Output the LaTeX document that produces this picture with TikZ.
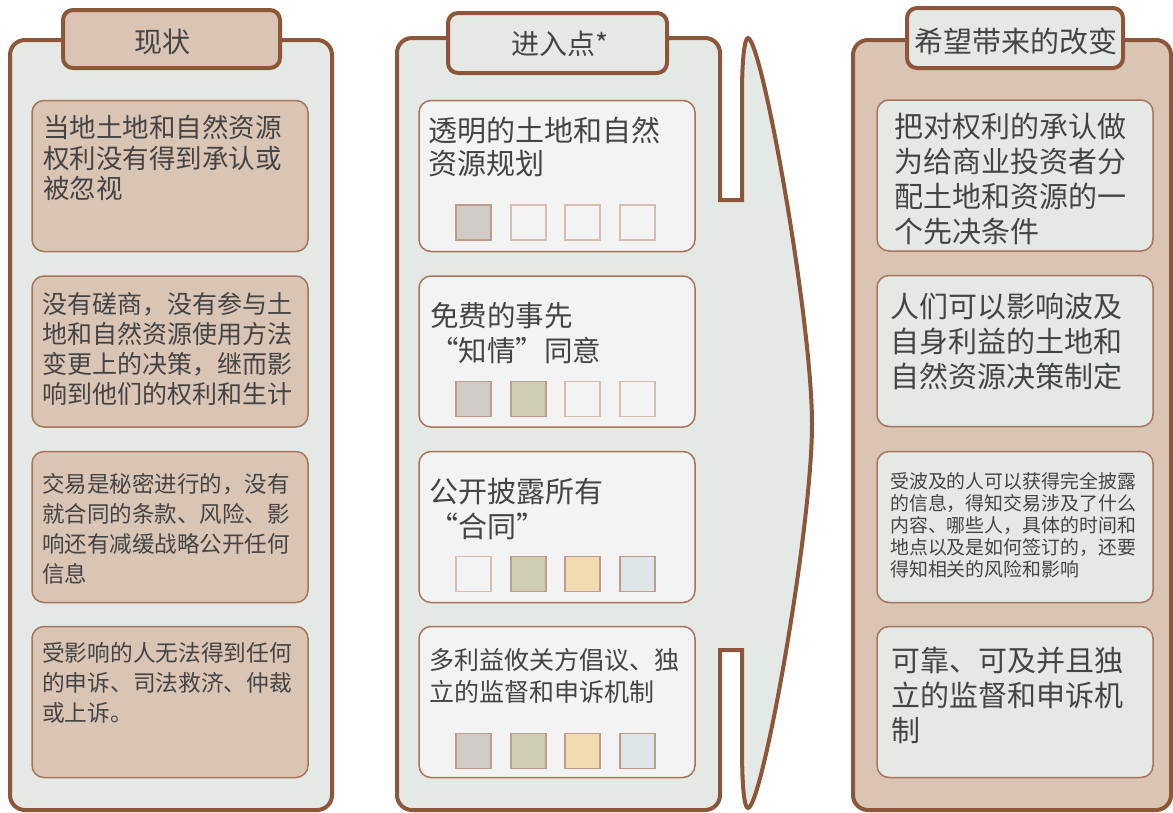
\documentclass[tikz,border=0pt]{standalone}
\usepackage{fontspec}
\setmainfont{Noto Sans CJK SC}
\newfontfamily\cjk{Noto Sans CJK SC}
\newcommand\fwq[1]{{\addfontfeature{CharacterWidth=Full}#1}}
\definecolor{brownc}{HTML}{8E5639}
\definecolor{tanc}{HTML}{DAC4B4}
\definecolor{panelc}{HTML}{E5E9E6}
\definecolor{lightc}{HTML}{F3F3F3}
\definecolor{innerc}{HTML}{A8745C}
\definecolor{textc}{HTML}{444444}
\definecolor{sqgray}{HTML}{CFCBC6}
\definecolor{sqolive}{HTML}{CFCDB4}
\definecolor{sqyellow}{HTML}{F0DCB0}
\definecolor{sqblue}{HTML}{DEE5E8}
\definecolor{sqline}{HTML}{BE9C8C}
\definecolor{sqlinelight}{HTML}{D6BDB2}
\tikzset{
  outerpanel/.style={draw=brownc, line width=4pt, fill=#1, rounded corners=15pt},
  tabbox/.style={draw=brownc, line width=4pt, fill=#1, rounded corners=10pt,
    minimum width=217pt, minimum height=58pt, inner sep=0pt, text=textc},
  innerbox/.style={draw=innerc, line width=1.5pt, fill=#1, rounded corners=12pt,
    minimum width=276pt, minimum height=151pt, inner sep=0pt},
  sqfull/.style={draw=sqline, line width=1.2pt, minimum size=35pt, inner sep=0pt, fill=#1},
  sqempty/.style={draw=sqlinelight, line width=1.2pt, minimum size=35pt, inner sep=0pt, fill=lightc},
  txt/.style={anchor=north west, inner sep=0pt, align=left, text=textc},
  tablabel/.style={inner sep=0pt, text=textc},
}
\newcommand\fs[2]{\fontsize{#1pt}{#2pt}\selectfont}
\begin{document}
\begin{tikzpicture}[x=1pt,y=-1pt]
\useasboundingbox (0,0) rectangle (1173,812);
\fill[white] (0,0) rectangle (1173,812);

% ---------------- left panel ----------------
\draw[outerpanel=panelc] (10,40) rectangle (332,810);
\node[tabbox=tanc] (tabL) at (171.5,39) {};
\node[tablabel, font=\fs{28}{32}] (tabLt) at (162,42) {现状};
\node[innerbox=tanc] (L1) at (170,176) {};
\node[innerbox=tanc] (L2) at (170,351.5) {};
\node[innerbox=tanc] (L3) at (170,527) {};
\node[innerbox=tanc] (L4) at (170,702) {};
\node[txt, font=\fs{26.5}{30.5}] (tL1) at (43,115) {当地土地和自然资源\\权利没有得到承认或\\被忽视};
\node[txt, font=\fs{25}{30}] (tL2) at (42,292) {没有磋商，没有参与土\\地和自然资源使用方法\\变更上的决策，继而影\\响到他们的权利和生计};
\node[txt, font=\fs{22.5}{30}] (tL3) at (42,473) {交易是秘密进行的，没有\\就合同的条款、风险、影\\响还有减缓战略公开任何\\信息};
\node[txt, font=\fs{22.7}{30}] (tL4) at (42,642) {受影响的人无法得到任何\\的申诉、司法救济、仲裁\\或上诉。};

% ---------------- middle panel with arrow ----------------
\draw[draw=brownc, line width=4pt, fill=panelc]
  (397,795) -- (397,53) .. controls (397,44.7) and (403.7,38) .. (412,38)
  -- (705,38) .. controls (713.3,38) and (720,44.7) .. (720,53)
  -- (720,200) -- (742,200) -- (742,95)
  .. controls (742,55) and (745,38) .. (748,38)
  .. controls (762,40) and (812,320) .. (812,424)
  .. controls (812,530) and (762,808) .. (748,808)
  .. controls (744,808) and (742,785) .. (742,745)
  -- (742,650) -- (720,650) -- (720,795)
  .. controls (720,803.3) and (713.3,810) .. (705,810)
  -- (412,810) .. controls (403.7,810) and (397,803.3) .. (397,795) -- cycle;
\node[tabbox=panelc, minimum width=219pt, minimum height=60pt] (tabM) at (557.5,43) {};
\node[tablabel, font=\fs{28}{32}] (tabMt) at (560,44) {进入点*};
\node[innerbox=lightc] (M1) at (557,176) {};
\node[innerbox=lightc] (M2) at (557,351.5) {};
\node[innerbox=lightc] (M3) at (557,527) {};
\node[innerbox=lightc] (M4) at (557,702) {};
\node[txt, font=\fs{29}{33}] (tM1) at (428,117) {透明的土地和自然\\资源规划};
\node[txt, font=\fs{28.5}{35}] (tM2) at (430,302) {免费的事先\\\fwq{“}知情\fwq{”}同意};
\node[txt, font=\fs{29}{35}] (tM3) at (429,478) {公开披露所有\\\fwq{“}合同\fwq{”}};
\node[txt, font=\fs{25}{32}] (tM4) at (429,648) {多利益攸关方倡议、独\\立的监督和申诉机制};
% squares
\node[sqfull=sqgray] (s11) at (473.5,222.5) {};
\node[sqempty] (s12) at (528.5,222.5) {};
\node[sqempty] (s13) at (582.5,222.5) {};
\node[sqempty] (s14) at (637.5,222.5) {};
\node[sqfull=sqgray] (s21) at (473.5,399) {};
\node[sqfull=sqolive] (s22) at (528.5,399) {};
\node[sqempty] (s23) at (582.5,399) {};
\node[sqempty] (s24) at (637.5,399) {};
\node[sqempty] (s31) at (473.5,574) {};
\node[sqfull=sqolive] (s32) at (528.5,574) {};
\node[sqfull=sqyellow] (s33) at (582.5,574) {};
\node[sqfull=sqblue] (s34) at (637.5,574) {};
\node[sqfull=sqgray] (s41) at (473.5,751) {};
\node[sqfull=sqolive] (s42) at (528.5,751) {};
\node[sqfull=sqyellow] (s43) at (582.5,751) {};
\node[sqfull=sqblue] (s44) at (637.5,751) {};

% ---------------- right panel ----------------
\draw[outerpanel=tanc] (853,40) rectangle (1171,810);
\node[tabbox=panelc, minimum width=216pt, minimum height=60pt] (tabR) at (1015,38) {};
\node[tablabel, font=\fs{29}{33}] (tabRt) at (1016,41) {希望带来的改变};
\node[innerbox=panelc] (R1) at (1015,175.5) {};
\node[innerbox=panelc] (R2) at (1015,351) {};
\node[innerbox=panelc] (R3) at (1015,527) {};
\node[innerbox=panelc] (R4) at (1015,702) {};
\node[txt, font=\fs{29}{35}] (tR1) at (894,113) {把对权利的承认做\\为给商业投资者分\\配土地和资源的一\\个先决条件};
\node[txt, font=\fs{29}{35}] (tR2) at (890,293) {人们可以影响波及\\自身利益的土地和\\自然资源决策制定};
\node[txt, font=\fs{18.9}{22}] (tR3) at (890,472) {受波及的人可以获得完全披露\\的信息，得知交易涉及了什么\\内容、哪些人，具体的时间和\\地点以及是如何签订的，还要\\得知相关的风险和影响};
\node[txt, font=\fs{29}{35}] (tR4) at (891,647) {可靠、可及并且独\\立的监督和申诉机\\制};
\end{tikzpicture}
\end{document}
